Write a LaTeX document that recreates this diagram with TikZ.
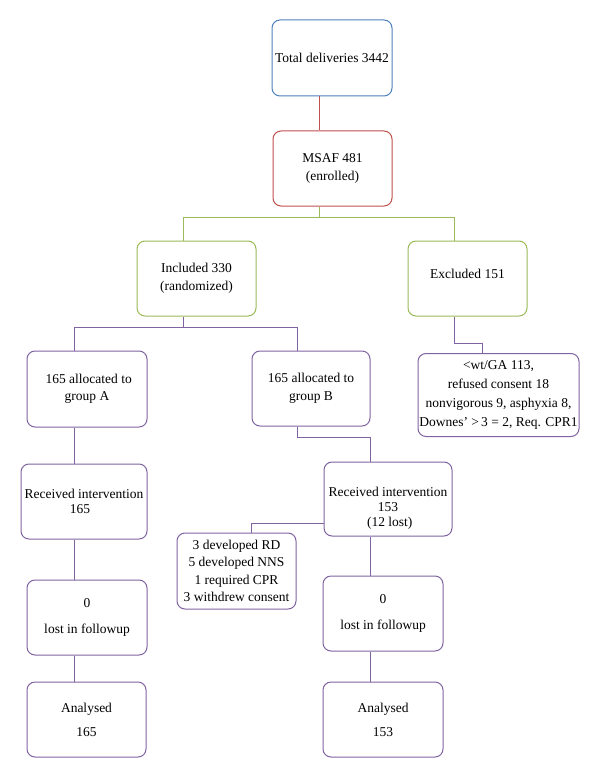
\documentclass[tikz,border=0pt]{standalone}
\usepackage{fontspec}
\setmainfont{Liberation Serif}
\definecolor{cblue}{HTML}{4F81BD}
\definecolor{cred}{HTML}{C0504D}
\definecolor{cgreen}{HTML}{9BBB59}
\definecolor{cpurple}{HTML}{8064A2}
\tikzset{
  box/.style={draw, rounded corners=8pt, line width=1pt, inner sep=0pt, align=center,
    font=\fontsize{13.5}{17.5}\selectfont, text=black},
  conn/.style={line width=1pt},
}
\begin{document}
\begin{tikzpicture}[x=1pt,y=-1pt]
\useasboundingbox (0,0) rectangle (600,778);
\fill[white] (0,0) rectangle (600,778);
% boxes
\node[box, draw=cblue, minimum width=120pt, minimum height=76pt] (total) at (332,58) {Total deliveries 3442};
\node[box, draw=cred, minimum width=119pt, minimum height=75pt] (msaf) at (332.5,168.5) {MSAF 481\\(enrolled)};
\node[box, draw=cgreen, minimum width=119pt, minimum height=75pt] (incl) at (196.5,278.5) {Included 330\\(randomized)};
\node[box, draw=cgreen, minimum width=119pt, minimum height=75pt, text depth=10pt] (excl) at (467.5,278.5) {Excluded 151};
\node[box, draw=cpurple, minimum width=120pt, minimum height=76pt] (boxA) at (87,389) {\ 165 allocated to\\group A};
\node[box, draw=cpurple, minimum width=118pt, minimum height=75pt] (boxB) at (311,388.5) {165 allocated to\\group B};
\node[box, draw=cpurple, minimum width=161pt, minimum height=83pt, font=\fontsize{13.5}{18.7}\selectfont] (exclr) at (498.5,395) {{<}wt/GA 113,\\refused consent 18\\nonvigorous 9, asphyxia 8,\\Downes’ {>}\,3 = 2, Req. CPR1};
\node[box, draw=cpurple, minimum width=126pt, minimum height=75pt, font=\fontsize{13.5}{15}\selectfont] (recA) at (84,501.5) {\rule{0pt}{14pt}Received intervention\\165\hspace{8pt}\strut};
\node[box, draw=cpurple, minimum width=128pt, minimum height=74pt, font=\fontsize{13.5}{15}\selectfont] (recB) at (388,499) {\rule{0pt}{27pt}Received intervention\\153\\\ (12 lost)};
\node[box, draw=cpurple, minimum width=119pt, minimum height=76pt, font=\fontsize{13.5}{17.4}\selectfont] (lost) at (236.5,571) {3 developed RD\\5 developed NNS\\1 required CPR\\3 withdrew consent};
\node[box, draw=cpurple, minimum width=120pt, minimum height=75pt, font=\fontsize{13.5}{26}\selectfont] (lostA) at (87,617.5) {0\\lost in followup};
\node[box, draw=cpurple, minimum width=119pt, minimum height=75pt, font=\fontsize{13.5}{24}\selectfont] (anaA) at (86.5,719.5) {Analysed\hspace{8pt}\\165};
\node[box, draw=cpurple, minimum width=120pt, minimum height=75pt, font=\fontsize{13.5}{26}\selectfont] (lostB) at (383,613.5) {0\\lost in followup};
\node[box, draw=cpurple, minimum width=120pt, minimum height=75pt, font=\fontsize{13.5}{24}\selectfont] (anaB) at (383,719.5) {Analysed\\153};
% connector x positions
\coordinate (xm) at (319,0);
\coordinate (xi) at (183,0);
\coordinate (xe) at (454,0);
\coordinate (xa) at (74,0);
\coordinate (xb) at (297,0);
\coordinate (xr) at (482,0);
\coordinate (xrb) at (370,0);
\coordinate (xl) at (251,0);
\coordinate (ylost) at (0,523);
% connectors
\draw[conn, cred] (total.south -| xm) -- (msaf.north -| xm);
\draw[conn, cgreen] (msaf.south -| xm) -- ++(0,11) coordinate (gj) -| (incl.north -| xi);
\draw[conn, cgreen] (gj) -| (excl.north -| xe);
\draw[conn, cpurple] (incl.south -| xi) -- ++(0,11) coordinate (pj) -| (boxA.north -| xa);
\draw[conn, cpurple] (pj) -| (boxB.north -| xb);
\draw[conn, cpurple] (excl.south -| xe) -- ++(0,27) -| (exclr.north -| xr);
\draw[conn, cpurple] (boxB.south -| xb) -- ++(0,11) -| (recB.north -| xrb);
\draw[conn, cpurple] (recB.west |- ylost) -| (lost.north -| xl);
\draw[conn, cpurple] (boxA.south -| xa) -- (recA.north -| xa);
\draw[conn, cpurple] (recA.south -| xa) -- (lostA.north -| xa);
\draw[conn, cpurple] (lostA.south -| xa) -- (anaA.north -| xa);
\draw[conn, cpurple] (recB.south -| xrb) -- (lostB.north -| xrb);
\draw[conn, cpurple] (lostB.south -| xrb) -- (anaB.north -| xrb);
\end{tikzpicture}
\end{document}
